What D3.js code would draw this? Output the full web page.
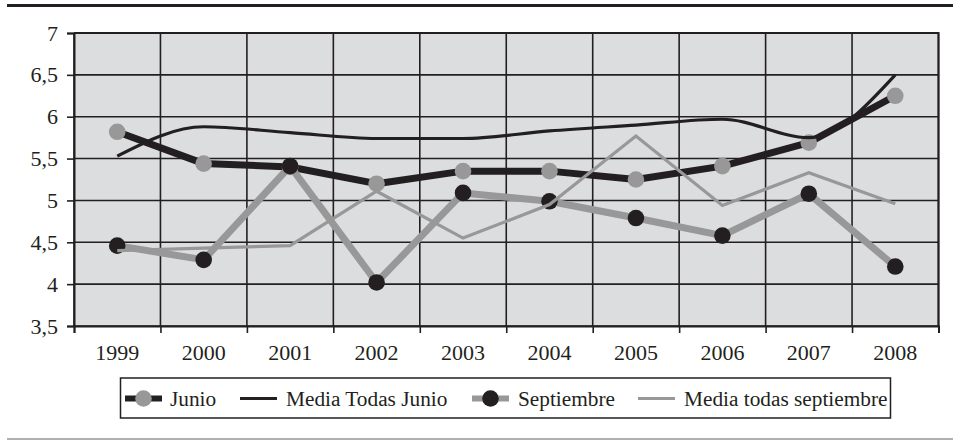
<!DOCTYPE html>
<html>
<head>
<meta charset="utf-8">
<script src="https://cdn.jsdelivr.net/npm/d3@7"></script>
<style>
  body { margin: 0; background: #fff; }
  svg text { font-family: "Liberation Serif", "Times New Roman", serif; fill: #231f20; }
</style>
</head>
<body>
<div id="chart"></div>
<script>
var years = ["1999", "2000", "2001", "2002", "2003", "2004", "2005", "2006", "2007", "2008"];
var junio = [5.82, 5.44, 5.40, 5.20, 5.35, 5.35, 5.25, 5.41, 5.69, 6.25];
var mediaJunio = [5.53, 5.88, 5.81, 5.74, 5.74, 5.83, 5.90, 5.97, 5.75, 6.50];
var septiembre = [4.46, 4.29, 5.41, 4.02, 5.09, 4.99, 4.79, 4.58, 5.08, 4.21];
var mediaSept = [4.40, 4.43, 4.46, 5.11, 4.55, 4.95, 5.77, 4.94, 5.33, 4.96];
var yTicks = [3.5, 4, 4.5, 5, 5.5, 6, 6.5, 7];
var legendNames = ["Junio", "Media Todas Junio", "Septiembre", "Media todas septiembre"];

var width = 953, height = 440;
var margin = {left: 74, right: 14.5, top: 33, bottom: 114};
var plotW = width - margin.left - margin.right,
    plotH = height - margin.top - margin.bottom;

var dark = "#231f20", grey = "#989898", bg = "#dcdddf";

var svg = d3.select("#chart")
            .append("svg")
            .attr("width", width)
            .attr("height", height);

// rules above and below the figure
svg.append("line")
    .attr("x1", 7).attr("x2", width).attr("y1", 5.5).attr("y2", 5.5)
    .attr("stroke", dark).attr("stroke-width", 3);
svg.append("line")
    .attr("x1", 7).attr("x2", width).attr("y1", 439).attr("y2", 439)
    .attr("stroke", "#b0b0b0").attr("stroke-width", 2);

var canvas = svg.append("g")
            .attr("transform", "translate(" + margin.left + "," + margin.top + ")");

var x = d3.scaleBand().domain(years).range([0, plotW]),
    xEdge = d3.scaleLinear().domain([0, years.length]).range([0, plotW]),
    y = d3.scaleLinear().domain([3.5, 7]).range([plotH, 0]);

canvas.append("rect")
    .attr("width", plotW).attr("height", plotH)
    .attr("fill", bg);

// grid
canvas.append("g")
    .selectAll("line")
    .data(yTicks)
    .enter()
    .append("line")
    .attr("x1", 0).attr("x2", plotW)
    .attr("y1", function(d) { return y(d); })
    .attr("y2", function(d) { return y(d); })
    .attr("stroke", dark).attr("stroke-width", 1.6);
canvas.append("g")
    .selectAll("line")
    .data(d3.range(years.length + 1))
    .enter()
    .append("line")
    .attr("x1", function(d) { return xEdge(d); })
    .attr("x2", function(d) { return xEdge(d); })
    .attr("y1", 0).attr("y2", plotH)
    .attr("stroke", dark).attr("stroke-width", 1.6);

// axes
var yAxis = canvas.append("g")
    .call(d3.axisLeft(y).tickValues(yTicks).tickSize(7).tickPadding(9)
          .tickFormat(function(d) { return String(d).replace(".", ","); }));
var xTicks = canvas.append("g")
    .attr("transform", "translate(0," + plotH + ")")
    .call(d3.axisBottom(xEdge).ticks(years.length).tickSize(7).tickFormat(""));
var xAxis = canvas.append("g")
    .attr("transform", "translate(0," + plotH + ")")
    .call(d3.axisBottom(x).tickSize(0).tickPadding(18));
[yAxis, xTicks, xAxis].forEach(function(a) {
    a.select(".domain").attr("stroke", dark).attr("stroke-width", 2);
    a.selectAll(".tick line").attr("stroke", dark).attr("stroke-width", 1.6);
    a.selectAll("text").attr("font-size", "22px").attr("fill", dark)
        .attr("font-family", "Liberation Serif");
});
xAxis.select(".domain").remove();

function lineOf(values, curve) {
    return d3.line()
        .x(function(d, i) { return x(years[i]) + x.bandwidth() / 2; })
        .y(function(d) { return y(d); })
        .curve(curve || d3.curveLinear)(values);
}

// Junio
canvas.append("path")
    .attr("d", lineOf(junio))
    .attr("fill", "none").attr("stroke", dark).attr("stroke-width", 7)
    .attr("stroke-linejoin", "round");
canvas.selectAll(".junio")
    .data(junio)
    .enter()
    .append("circle")
    .attr("class", "junio")
    .attr("cx", function(d, i) { return x(years[i]) + x.bandwidth() / 2; })
    .attr("cy", function(d) { return y(d); })
    .attr("r", 8.3)
    .attr("fill", grey);

// Media Todas Junio
canvas.append("path")
    .attr("d", lineOf(mediaJunio, d3.curveMonotoneX))
    .attr("fill", "none").attr("stroke", dark).attr("stroke-width", 3.2);

// Septiembre
canvas.append("path")
    .attr("d", lineOf(septiembre))
    .attr("fill", "none").attr("stroke", grey).attr("stroke-width", 7)
    .attr("stroke-linejoin", "round");
canvas.selectAll(".sept")
    .data(septiembre)
    .enter()
    .append("circle")
    .attr("class", "sept")
    .attr("cx", function(d, i) { return x(years[i]) + x.bandwidth() / 2; })
    .attr("cy", function(d) { return y(d); })
    .attr("r", 8.3)
    .attr("fill", dark);

// Media todas septiembre
canvas.append("path")
    .attr("d", lineOf(mediaSept))
    .attr("fill", "none").attr("stroke", grey).attr("stroke-width", 3.2);

// plot frame top/right
canvas.append("path")
    .attr("d", "M0,0H" + plotW + "V" + plotH)
    .attr("fill", "none").attr("stroke", dark).attr("stroke-width", 2);

// legend
var legend = svg.append("g");
legend.append("rect")
    .attr("x", 120.5).attr("y", 378).attr("width", 770).attr("height", 40)
    .attr("fill", "#fff").attr("stroke", dark).attr("stroke-width", 1.5);

var legendItems = [
    {name: legendNames[0], x: 125, line: dark, lw: 6, dot: grey, tx: 170},
    {name: legendNames[1], x: 240, line: dark, lw: 3, dot: null, tx: 286},
    {name: legendNames[2], x: 472, line: grey, lw: 6, dot: dark, tx: 518},
    {name: legendNames[3], x: 638, line: grey, lw: 3, dot: null, tx: 684}
];
var ly = 398.5;
legendItems.forEach(function(it) {
    legend.append("line")
        .attr("x1", it.x).attr("x2", it.x + 37).attr("y1", ly).attr("y2", ly)
        .attr("stroke", it.line).attr("stroke-width", it.lw);
    if (it.dot) {
        legend.append("circle")
            .attr("cx", it.x + 18.5).attr("cy", ly).attr("r", 8.3)
            .attr("fill", it.dot);
    }
    legend.append("text")
        .attr("x", it.tx).attr("y", ly)
        .attr("dy", "0.35em")
        .attr("font-size", "21.3px")
        .text(it.name);
});
</script>
</body>
</html>
